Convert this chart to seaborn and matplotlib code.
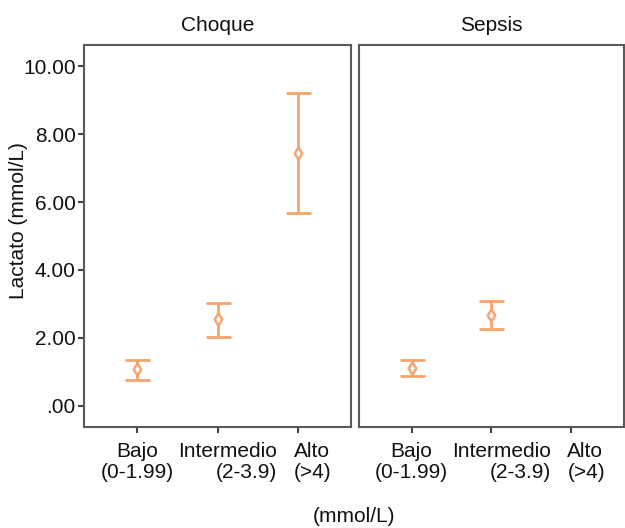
import matplotlib
matplotlib.use("Agg")
import matplotlib.pyplot as plt
import matplotlib.transforms as mtransforms
import seaborn as sns
import pandas as pd

sns.set_style("white")
plt.rcParams['font.family'] = ['Liberation Sans', 'DejaVu Sans']

panels = ["Choque", "Sepsis"]
categories = ["Bajo\n(0-1.99)", "Intermedio\n(2-3.9)", "Alto\n(>4)"]
choque_mean = [1.09, 2.55, 7.43]
choque_low = [0.76, 2.04, 5.67]
choque_high = [1.35, 3.04, 9.20]
sepsis_mean = [1.11, 2.68, None]
sepsis_low = [0.88, 2.26, None]
sepsis_high = [1.35, 3.09, None]
yticks = [0, 2, 4, 6, 8, 10]
ytick_labels = [".00", "2.00", "4.00", "6.00", "8.00", "10.00"]

rows = []
for p, m, lo, hi in [("Choque", choque_mean, choque_low, choque_high),
                     ("Sepsis", sepsis_mean, sepsis_low, sepsis_high)]:
    for i, c in enumerate(categories):
        if m[i] is not None:
            rows.append(dict(panel=p, cat=c, pos=i, mean=m[i], lo=lo[i], hi=hi[i]))
df = pd.DataFrame(rows)

color = "#F5A46C"
fs = 15
fig = plt.figure(figsize=(6.25, 5.28), dpi=100)
W, H = 625, 528
boxes = [(84, 351), (359, 624)]
top, bottom = 45, 427
axes = []
for (x0, x1) in boxes:
    ax = fig.add_axes([x0 / W, 1 - bottom / H, (x1 - x0) / W, (bottom - top) / H])
    axes.append(ax)

for ax, p in zip(axes, panels):
    d = df[df.panel == p]
    ax.errorbar(d["pos"], d["mean"], yerr=[d["mean"] - d["lo"], d["hi"] - d["mean"]],
                fmt="none", ecolor=color, elinewidth=2, capsize=9, capthick=2)
    sns.scatterplot(data=d, x="pos", y="mean", ax=ax, marker="d", s=40,
                    facecolor="white", edgecolor=color, linewidth=1.8, zorder=5)
    ax.set_xlim(-0.66, 2.66)
    ax.set_ylim(-0.62, 10.62)
    ax.set_xticks(range(len(categories)))
    ax.set_xticklabels(categories, fontsize=fs, color="#111111", linespacing=1.1)
    ax.set_xlabel("")
    ax.set_ylabel("")
    ax.set_title(p, fontsize=fs, pad=10, color="#111111")
    for s in ax.spines.values():
        s.set_color("#5a5a5a")
        s.set_linewidth(1.5)
    ax.tick_params(axis="x", direction="out", length=4, width=1.5, color="#444444", pad=7, bottom=True)
    labs = ax.get_xticklabels()
    labs[0].set_multialignment("center")
    labs[1].set_multialignment("right")
    labs[1].set_transform(labs[1].get_transform() + mtransforms.ScaledTranslation(10 / 100, 0, fig.dpi_scale_trans))
    labs[2].set_ha("left")
    labs[2].set_multialignment("left")
    labs[2].set_transform(labs[2].get_transform() + mtransforms.ScaledTranslation(-4 / 100, 0, fig.dpi_scale_trans))

axes[0].set_yticks(yticks)
axes[0].set_yticklabels(ytick_labels, fontsize=fs, color="#111111")
axes[0].tick_params(axis="y", direction="out", length=4, width=1.5, color="#444444", pad=2, left=True)
axes[1].set_yticks([])

fig.text(19 / W, 1 - 221 / H, "Lactato (mmol/L)", rotation=90, ha="center", va="center",
         fontsize=fs, color="#111111")
fig.text(354 / W, 1 - 517 / H, "(mmol/L)", ha="center", va="center", fontsize=fs, color="#111111")

fig.savefig("out.png", dpi=100)
